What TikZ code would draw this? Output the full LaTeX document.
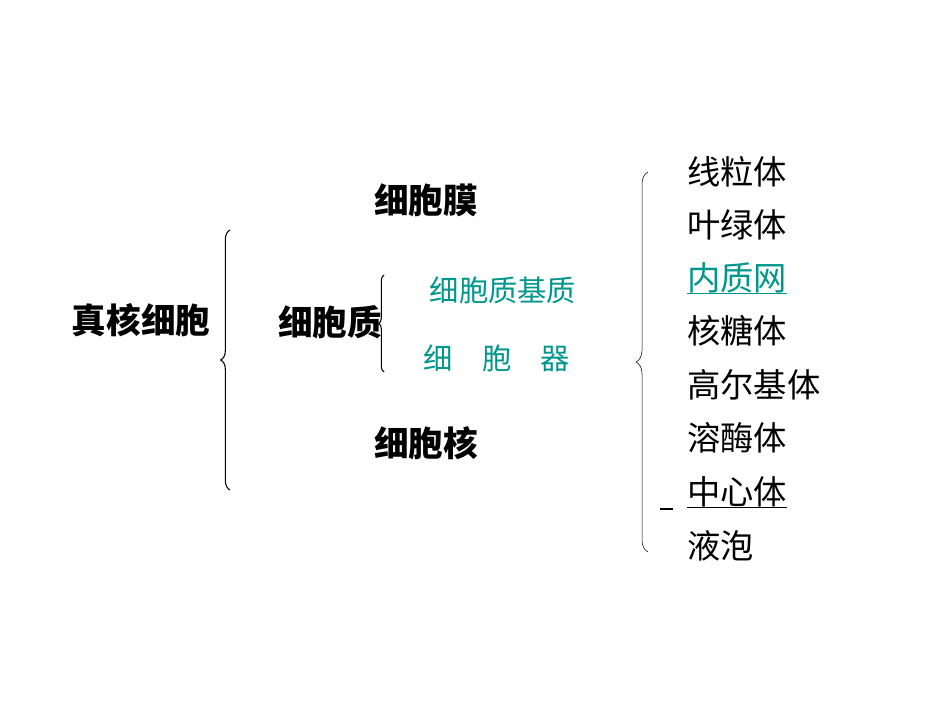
\documentclass[tikz,border=0pt]{standalone}
\usepackage{fontspec}
\setmainfont{Noto Sans CJK SC}
\newfontfamily\cjkbold[BoldFont={Noto Sans CJK SC Bold}]{Noto Sans CJK SC}
\usetikzlibrary{positioning}
\usetikzlibrary{decorations.pathreplacing}
\definecolor{tealtext}{RGB}{0,150,140}

\begin{document}
\begin{tikzpicture}[x=0.0264cm, y=-0.0264cm,
                          boldnode/.style={inner sep=0pt, font=\fontsize{26}{28}\selectfont\bfseries},
                          tealnode/.style={inner sep=0pt, text=tealtext, font=\fontsize{22}{24}\selectfont},
                          itemnode/.style={inner sep=0pt, anchor=west, font=\fontsize{25}{27}\selectfont},
                          bracket/.style={decorate, thick, decoration={brace, amplitude=7pt}},
                      ]
                      \useasboundingbox (0,0) rectangle (950,713);
                      %Nodes
                      \node[boldnode]      (cell)                            at (141,320) {真核细胞};
                      \node[boldnode]      (membrane)                        at (426,200) {细胞膜};
                      \node[boldnode]      (plasm)                           at (330,322) {细胞质};
                      \node[boldnode]      (nucleus)                         at (426,443) {细胞核};
                      \node[tealnode]      (matrix)                          at (503,290) {细胞质基质};
                      \node[tealnode]      (organelle)                       at (497,358) {细\quad 胞\quad 器};

                      \node[itemnode]      (mito)                            at (687,172) {线粒体};
                      \node[itemnode]      (chloro)                          at (687,225) {叶绿体};
                      \node[itemnode, text=tealtext] (er)                    at (687,278) {内质网};
                      \node[itemnode]      (ribo)                            at (687,331) {核糖体};
                      \node[itemnode]      (golgi)                           at (687,385) {高尔基体};
                      \node[itemnode]      (lyso)                            at (687,438) {溶酶体};
                      \node[itemnode]      (centro)                          at (687,492) {中心体};
                      \node[itemnode]      (vacuole)                         at (687,546) {液泡};

                      %Braces
                      \draw[bracket] (230,490) -- (230,230);
                      \draw[bracket, decoration={amplitude=4pt}] (384,372) -- (384,275);
                      \draw[bracket, thin, decoration={amplitude=9pt}] (648,552) -- (648,172);

                      %Underlines
                      \draw[tealtext, thick] (er.south west) -- (er.south east);
                      \draw[thick] (centro.south west) -- (centro.south east);
                      \draw[thick] (660,509) -- (673,509);
                  \end{tikzpicture}
\end{document}
